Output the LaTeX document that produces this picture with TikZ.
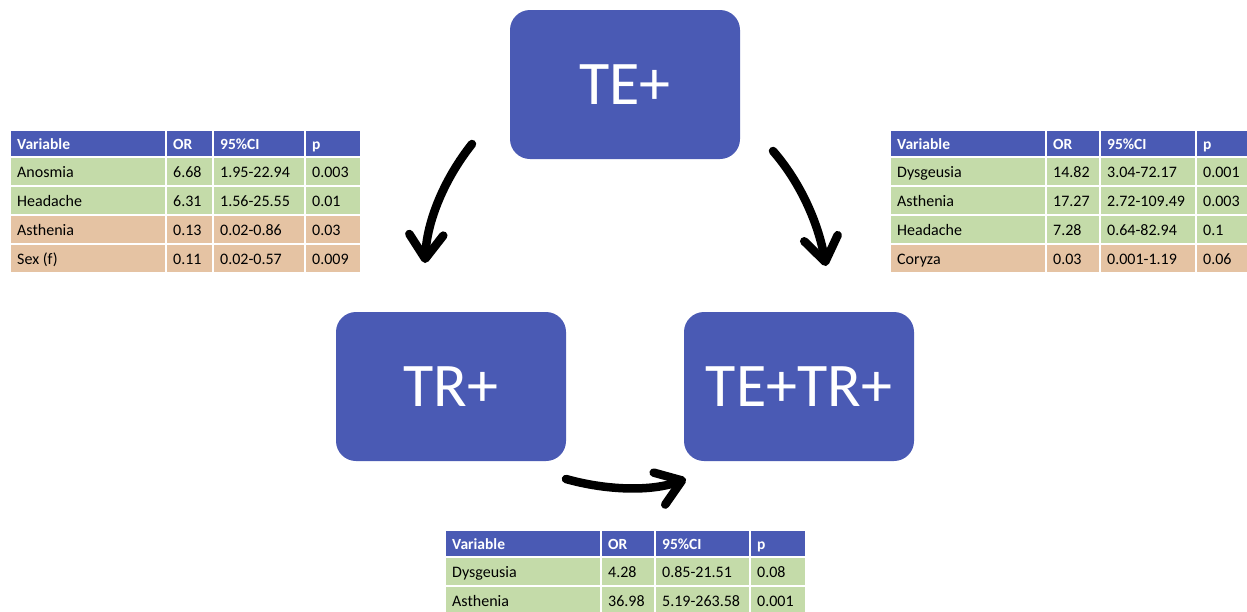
\documentclass[tikz,border=0pt]{standalone}
\usepackage{fontspec}
\setmainfont{Carlito}
\usetikzlibrary{arrows.meta}
\definecolor{boxblue}{HTML}{4A5AB4}
\definecolor{rowgreen}{HTML}{C4DBA9}
\definecolor{roworange}{HTML}{E5C3A3}
\tikzset{
  bigbox/.style={fill=boxblue, draw=none, rounded corners=20pt, minimum width=230pt, minimum height=149pt, inner sep=0pt, text=white, font=\fontsize{62}{62}\selectfont},
  hdrtext/.style={anchor=west, inner sep=0pt, text height=13pt, text depth=2pt, text=white, font=\fontsize{15.5}{15.5}\selectfont\bfseries},
  bodytext/.style={anchor=west, inner sep=0pt, text height=13pt, text depth=2pt, text=black, font=\fontsize{16}{16}\selectfont},
  cellrect/.style={draw=white, line width=2pt},
  arr/.style={line width=8.5pt, line cap=round, -{Straight Barb[length=24pt,width=34pt,line cap=round,line join=round]}}
}
% #1 name, #2 y, #3 h, #4 fill, #5 text style, #6-#9 texts
\newcommand\trow[9]{%
  \path[cellrect, fill=#4] (\colA,#2) rectangle (\colB,{#2+#3});
  \path[cellrect, fill=#4] (\colB,#2) rectangle (\colC,{#2+#3});
  \path[cellrect, fill=#4] (\colC,#2) rectangle (\colD,{#2+#3});
  \path[cellrect, fill=#4] (\colD,#2) rectangle (\colE,{#2+#3});
  \node[#5] (#1a) at ({\colA+7},{#2+#3/2}) {#6};
  \node[#5] (#1b) at ({\colB+7},{#2+#3/2}) {#7};
  \node[#5] (#1c) at ({\colC+7},{#2+#3/2}) {#8};
  \node[#5] (#1d) at ({\colD+7},{#2+#3/2}) {#9};
}
\begin{document}
\begin{tikzpicture}[x=1pt,y=-1pt]
\useasboundingbox[fill=white] (0,0) rectangle (1247,611);

% main boxes
\node[bigbox] (te) at (625,84.5) {TE+};
\node[bigbox] (tr) at (451,386.5) {TR+};
\node[bigbox] (tetr) at (799,386.5) {TE+TR+};

% left table
\def\colA{10}\def\colB{166}\def\colC{213}\def\colD{305}\def\colE{361}
\trow{lh}{130}{27}{boxblue}{hdrtext}{Variable}{OR}{95\%CI}{p}
\trow{la}{157}{29}{rowgreen}{bodytext}{Anosmia}{6.68}{1.95-22.94}{0.003}
\trow{lb}{186}{29}{rowgreen}{bodytext}{Headache}{6.31}{1.56-25.55}{0.01}
\trow{lc}{215}{29}{roworange}{bodytext}{Asthenia}{0.13}{0.02-0.86}{0.03}
\trow{ld}{244}{29}{roworange}{bodytext}{Sex (f)}{0.11}{0.02-0.57}{0.009}

% right table
\def\colA{890}\def\colB{1046}\def\colC{1100}\def\colD{1196}\def\colE{1249}
\trow{rh}{130}{27}{boxblue}{hdrtext}{Variable}{OR}{95\%CI}{p}
\trow{ra}{157}{29}{rowgreen}{bodytext}{Dysgeusia}{14.82}{3.04-72.17}{0.001}
\trow{rb}{186}{29}{rowgreen}{bodytext}{Asthenia}{17.27}{2.72-109.49}{0.003}
\trow{rc}{215}{29}{rowgreen}{bodytext}{Headache}{7.28}{0.64-82.94}{0.1}
\trow{rd}{244}{29}{roworange}{bodytext}{Coryza}{0.03}{0.001-1.19}{0.06}

% bottom table
\def\colA{445}\def\colB{601}\def\colC{655}\def\colD{750}\def\colE{806}
\trow{bh}{530}{27}{boxblue}{hdrtext}{Variable}{OR}{95\%CI}{p}
\trow{ba}{557}{29}{rowgreen}{bodytext}{Dysgeusia}{4.28}{0.85-21.51}{0.08}
\trow{bb}{586}{29}{rowgreen}{bodytext}{Asthenia}{36.98}{5.19-263.58}{0.001}

% arrows
\coordinate (l1) at (472,144);
\coordinate (l2) at (425,263);
\coordinate (r1) at (773,151);
\coordinate (r2) at (826,266);
\coordinate (b1) at (566,479);
\coordinate (b2) at (686,479);
\draw[arr] (l1) .. controls (445,178) and (427,220) .. (l2);
\draw[arr] (r1) .. controls (800,182) and (818,222) .. (r2);
\draw[arr] (b1) .. controls (605,490) and (650,492) .. (b2);
\end{tikzpicture}
\end{document}
